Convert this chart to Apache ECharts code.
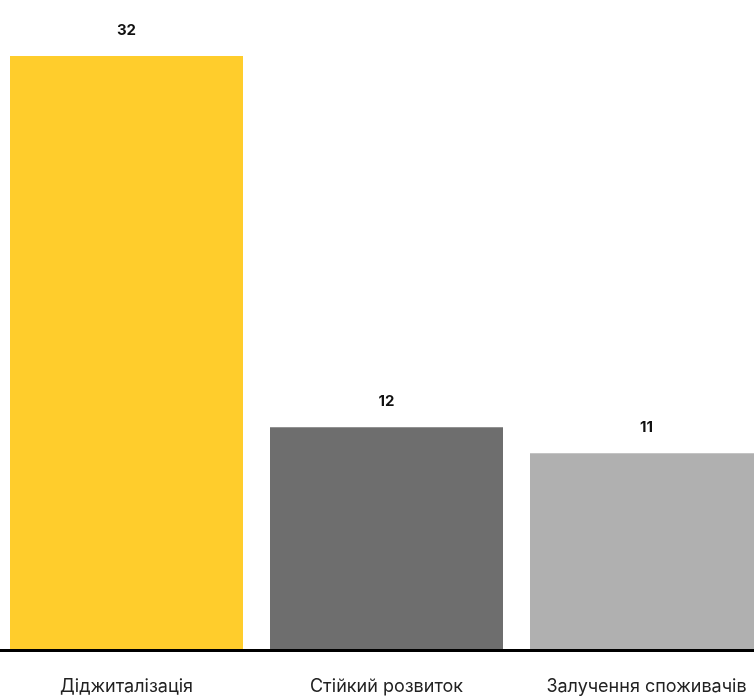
<!DOCTYPE html>
<html><head><meta charset="utf-8">
<script src="https://cdn.jsdelivr.net/npm/echarts@6/dist/echarts.min.js"></script>
<style>html,body{margin:0;padding:0;background:#fff}#c{width:754px;height:696px}</style>
</head><body><div id="c"></div>
<script>
const categories = ['Діджиталізація', 'Стійкий розвиток', 'Залучення споживачів'];
const values = [32, 12, 10.6];
const colors = ['#FFCD2C', '#6E6E6E', '#B0B0B0'];

const chart = echarts.init(document.getElementById('c'), null, {renderer: 'canvas'});
chart.setOption({
  animation: false,
  grid: {left: -3.5, width: 780, top: 56, bottom: 46, containLabel: false, outerBoundsMode: 'none'},
  xAxis: {
    type: 'category', data: categories, offset: 2, z: 5,
    axisLine: {lineStyle: {color: '#000', width: 3}},
    axisTick: {show: false},
    axisLabel: {color: '#222', fontSize: 18, fontFamily: 'Inter', margin: 26, interval: 0, hideOverlap: false}
  },
  yAxis: {type: 'value', min: 0, max: 32, show: false, splitLine: {show: false}},
  series: [{
    type: 'bar', barWidth: 233,
    data: values.map((v, i) => ({value: v, itemStyle: {color: colors[i]}})),
    label: {
      show: true, position: 'top', distance: 18,
      formatter: p => Math.round(p.value),
      color: '#111', fontSize: 15, fontWeight: 'bold', fontFamily: 'Inter'
    }
  }]
});
</script></body></html>
